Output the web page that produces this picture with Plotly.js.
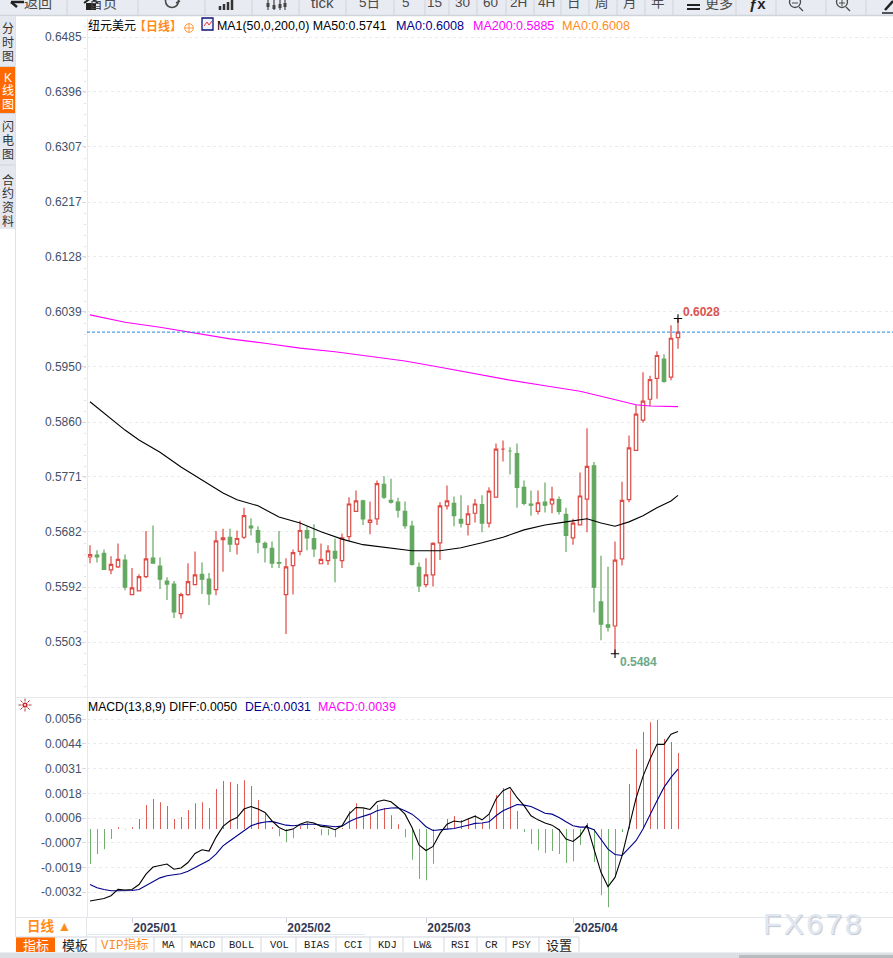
<!DOCTYPE html>
<html><head><meta charset="utf-8">
<script src="https://cdn.plot.ly/plotly-3.0.1.min.js"></script>
<style>html,body{margin:0;padding:0;background:#fff;overflow:hidden}#c{width:893px;height:958px}</style>
</head><body><div id="c"></div>
<script>
// ---- candle data (oldest to newest)
const open_ = [.5641,.5644,.5647,.5620,.5625,.5636,.5580,.5586,.5609,.5639,.5626,.5602,.5597,.5549,.5580,.5596,.5613,.5605,.5588,.5669,.5673,.5662,.5673,.5691,.5684,.5663,.5655,.5632,.5580,.5627,.5650,.5684,.5671,.5630,.5635,.5650,.5635,.5674,.5715,.5732,.5697,.5703,.5759,.5733,.5730,.5715,.5691,.5624,.5596,.5612,.5664,.5724,.5728,.5702,.5694,.5712,.5726,.5696,.5738,.5816,.5813,.5809,.5754,.5727,.5715,.5730,.5727,.5734,.5710,.5672,.5693,.5735,.5789,.5568,.5531,.5529,.5638,.5734,.5814,.5863,.5897,.5931,.5962,.5933,.5997];
const high_ = [.5660,.5652,.5653,.5642,.5663,.5645,.5623,.5613,.5683,.5692,.5640,.5608,.5602,.5583,.5631,.5650,.5632,.5615,.5683,.5687,.5687,.5684,.5721,.5704,.5691,.5666,.5666,.5683,.5639,.5653,.5700,.5691,.5694,.5663,.5660,.5671,.5679,.5738,.5749,.5734,.5731,.5765,.5772,.5768,.5737,.5731,.5700,.5632,.5639,.5665,.5730,.5757,.5739,.5741,.5725,.5735,.5741,.5754,.5825,.5830,.5819,.5825,.5765,.5749,.5749,.5762,.5755,.5739,.5721,.5703,.5778,.5850,.5795,.5643,.5625,.5666,.5763,.5838,.5888,.5941,.5935,.5975,.5970,.6017,.6028];
const low_  = [.5631,.5632,.5620,.5613,.5623,.5587,.5580,.5586,.5607,.5631,.5589,.5571,.5542,.5541,.5578,.5596,.5581,.5563,.5579,.5617,.5649,.5645,.5670,.5676,.5647,.5632,.5623,.5623,.5516,.5580,.5644,.5652,.5641,.5630,.5628,.5600,.5623,.5667,.5714,.5693,.5678,.5693,.5735,.5728,.5705,.5687,.5627,.5584,.5592,.5593,.5636,.5718,.5691,.5689,.5676,.5697,.5681,.5689,.5738,.5796,.5775,.5721,.5725,.5708,.5710,.5713,.5712,.5710,.5649,.5661,.5692,.5681,.5551,.5506,.5520,.5484,.5627,.5730,.5814,.5859,.5886,.5898,.5924,.5928,.5979];
const close_= [.5645,.5641,.5621,.5629,.5637,.5592,.5591,.5609,.5638,.5631,.5605,.5597,.5552,.5580,.5601,.5612,.5605,.5581,.5667,.5672,.5662,.5671,.5708,.5688,.5665,.5656,.5631,.5631,.5625,.5648,.5684,.5672,.5654,.5637,.5651,.5639,.5672,.5727,.5732,.5703,.5701,.5760,.5738,.5730,.5717,.5692,.5629,.5594,.5612,.5663,.5724,.5732,.5708,.5696,.5711,.5727,.5696,.5748,.5816,.5816,.5813,.5754,.5728,.5725,.5729,.5725,.5735,.5715,.5676,.5696,.5740,.5788,.5592,.5532,.5527,.5636,.5733,.5818,.5873,.5894,.5929,.5968,.5926,.5996,.6006];
// ---- moving averages: vertices read at these candle numbers
const ma50Idx = [0,3,5,7,10,13,16,19,21,24,27,30,33,36,39,42,46,50,53,56,59,62,65,68,71,73,75,77,79,81,83,84];
const ma50Val = [.5893,.5865,.5847,.5831,.5811,.5787,.5766,.5745,.5734,.5724,.5706,.5696,.5682,.5670,.5661,.5657,.5651,.5651,.5656,.5664,.5673,.5685,.5693,.5698,.5703,.5696,.5691,.5698,.5708,.5721,.5732,.5741];
const ma200Idx = [0,5,10,15,20,25,30,35,40,45,50,55,60,65,70,73,76,78,80,84];
const ma200Val = [.6034,.6022,.6014,.6005,.5995,.5988,.5980,.5974,.5966,.5959,.5949,.5938,.5928,.5919,.5910,.5902,.5893,.5888,.5886,.5885];
const lastPrice = .6006, highMark = .6028, lowMark = .5484, highIdx = 84, lowIdx = 75;
// ---- MACD pane
const macdBars = [-.00178,-.00127,-.00102,-.00051,.00010,-.00002,.00010,.00051,.00122,.00153,.00137,.00117,.00051,.00061,.00097,.00132,.00137,.00107,.00204,.00244,.00239,.00229,.00249,.00219,.00148,.00081,.00010,-.00036,-.00066,-.00046,.00015,.00031,.00005,-.00031,-.00031,-.00041,.00005,.00092,.00132,.00102,.00076,.00122,.00107,.00071,.00025,-.00042,-.00156,-.00254,-.00260,-.00176,-.00005,.00051,.00066,.00046,.00056,.00071,.00031,.00076,.00173,.00209,.00198,.00092,-.00015,-.00076,-.00107,-.00122,-.00112,-.00127,-.00173,-.00163,-.00081,.00031,-.00168,-.00336,-.00397,-.00241,-.00015,.00229,.00407,.00494,.00544,.00555,.00458,.00443,.00387];
const diffLine = [-.00366,-.00360,-.00353,-.00339,-.00307,-.00310,-.00307,-.00282,-.00229,-.00193,-.00185,-.00178,-.00204,-.00198,-.00170,-.00124,-.00105,-.00112,-.00042,.00014,.00042,.00059,.00102,.00115,.00102,.00085,.00042,.00008,-.00008,0,.00025,.00037,.00031,.00014,.00010,-.00003,.00017,.00076,.00110,.00108,.00100,.00139,.00148,.00139,.00110,.00076,.00008,-.00081,-.00109,-.00088,-.00022,.00025,.00041,.00036,.00051,.00066,.00047,.00076,.00153,.00195,.00212,.00161,.00119,.00068,.00047,.00031,.00020,-.00003,-.00051,-.00063,-.00034,.00020,-.00102,-.00220,-.00293,-.00246,-.00136,.00017,.00156,.00268,.00356,.00431,.00431,.00483,.00497];
const deaLine = [-.00282,-.00298,-.00307,-.00314,-.00314,-.00314,-.00312,-.00307,-.00288,-.00266,-.00248,-.00237,-.00231,-.00227,-.00215,-.00195,-.00178,-.00159,-.00127,-.00085,-.00059,-.00034,-.00005,.00017,.00029,.00036,.00039,.00031,.00020,.00017,.00022,.00025,.00025,.00020,.00014,.00012,.00015,.00037,.00054,.00064,.00076,.00093,.00102,.00107,.00108,.00093,.00076,.00047,.00012,-.00007,-.00005,0,.00003,.00010,.00020,.00029,.00031,.00037,.00068,.00093,.00110,.00125,.00122,.00115,.00098,.00081,.00076,.00059,.00037,.00017,.00010,.00010,-.00003,-.00051,-.00102,-.00129,-.00134,-.00097,-.00059,0,.00076,.00144,.00212,.00263,.00305];
// ---- tick labels
const priceTicks = ['0.6485','0.6396','0.6307','0.6217','0.6128','0.6039','0.5950','0.5860','0.5771','0.5682','0.5592','0.5503'];
const macdTicks = ['0.0056','0.0044','0.0031','0.0018','0.0006','-0.0007','-0.0019','-0.0032'];
const macdTickVals = [.0056,.00434,.00308,.00182,.00056,-.00070,-.00196,-.00320];
const monthTickIdx = [6,28,48,69];
const monthLabels = ['2025/01','2025/02','2025/03','2025/04'];
const toolbarLabels = [['tick',322],['5日',369],['5',406],['15',434],['30',462],['60',490],['2H',518],['4H',546],['日',574],['周',602],['月',630],['年',658]];
const toolbarSeps = [67,138,205,252,299,346,394,425,449,477,506,534,561,589,617,645,673,736,776,826,866];
const bottomTabs = [['模板',75,55,96],['VIP指标',125,96,154],['MA',168,154,182],['MACD',202,182,222],['BOLL',241,222,261],['VOL',279,261,296],['BIAS',316,296,336],['CCI',353,336,370],['KDJ',387,370,403],['LW&',423,403,444],['RSI',460,444,477],['CR',491,477,506],['PSY',522,506,539],['设置',559,539,579]];

const W=893,H=958;
const px=x=>x/W, py=y=>1-y/H;
const SANS='"Liberation Sans", Arial, "Noto Sans CJK SC", sans-serif';
const RED='#df4a44', GREEN='#62a85f', BLUE='#00008b', MAG='#ff00ff', ORG='#ff8c1a';
const idx=open_.map((_,i)=>i);
const xr=[(87-90)/7,(893-90)/7];
const yTop=18,yMid=697,yBot=917;
const perPx=(.6485-.5503)/605;
const priceRange=[.6485-(yMid-37)*perPx,.6485+(37-yTop)*perPx];
const macdPerPx=.0088/173;
const macdRange=[.0056-(yBot-719)*macdPerPx,.0056+(719-yMid)*macdPerPx];

const traces=[
 {type:'candlestick',x:idx,open:open_,high:high_,low:low_,close:close_,xaxis:'x',yaxis:'y',whiskerwidth:0,
  increasing:{line:{color:RED,width:1.2},fillcolor:'#ffffff'},decreasing:{line:{color:GREEN,width:1.2},fillcolor:GREEN},hoverinfo:'skip'},
 {type:'scatter',mode:'lines',x:ma200Idx,y:ma200Val,xaxis:'x',yaxis:'y',line:{color:MAG,width:1.1},hoverinfo:'skip'},
 {type:'scatter',mode:'lines',x:ma50Idx,y:ma50Val,xaxis:'x',yaxis:'y',line:{color:'#000',width:1.1},hoverinfo:'skip'},
 {type:'scatter',mode:'markers',x:[highIdx,lowIdx],y:[highMark,lowMark],xaxis:'x',yaxis:'y',
  marker:{symbol:'cross-thin',size:6,line:{color:'#000',width:1.1}},hoverinfo:'skip'},
 {type:'bar',x:idx,y:macdBars,xaxis:'x2',yaxis:'y2',width:.13,offset:.005,marker:{color:macdBars.map(v=>v>=0?RED:GREEN),line:{width:0}},hoverinfo:'skip'},
 {type:'scatter',mode:'lines',x:idx,y:deaLine,xaxis:'x2',yaxis:'y2',line:{color:BLUE,width:1.1},hoverinfo:'skip'},
 {type:'scatter',mode:'lines',x:idx,y:diffLine,xaxis:'x2',yaxis:'y2',line:{color:'#000',width:1.1},hoverinfo:'skip'}
];

const shapes=[];
const rect=(x0,y0,x1,y1,fill,layer)=>shapes.push({type:'rect',xref:'paper',yref:'paper',x0:px(x0),x1:px(x1),y0:py(y1),y1:py(y0),fillcolor:fill,line:{width:0},layer:layer||'above'});
const seg=(x0,y0,x1,y1,c,w)=>shapes.push({type:'line',xref:'paper',yref:'paper',x0:px(x0),x1:px(x1),y0:py(y0),y1:py(y1),line:{color:c,width:w||1},layer:'above'});
const circ=(cx,cy,r,c,w)=>shapes.push({type:'circle',xref:'paper',yref:'paper',x0:px(cx-r),x1:px(cx+r),y0:py(cy+r),y1:py(cy-r),line:{color:c,width:w||1},layer:'above'});
const ann=[];
const txt=(s,x,y,o={})=>ann.push({text:s,xref:'paper',yref:'paper',x:px(x),y:py(y),xanchor:o.a||'left',yanchor:'middle',showarrow:false,
   font:Object.assign({family:o.f||SANS,size:o.s||12,color:o.c||'#000',weight:o.w||'normal'},o.shadow?{shadow:o.shadow}:{}),borderpad:0,borderwidth:0});

// toolbar
rect(0,0,893,15,'#e9ebf2'); seg(0,15.5,893,15.5,'#cfd3da',1.5);
toolbarSeps.forEach(x=>seg(x,0,x,15,'#cfd3da',1));
const TB='#4a4a4a';
txt('返回',38,3,{a:'center',s:14,c:TB}); txt('首页',103,3,{a:'center',s:14,c:TB});
toolbarLabels.forEach(([s,x])=>txt(s,x,3,{a:'center',s:s==='tick'?15:13.5,c:TB}));
txt('更多',705,3,{a:'left',s:14,c:TB}); seg(687,5,700,5,'#222',2); seg(687,9,700,9,'#222',2);
txt('ƒx',757,4,{a:'center',s:15,c:'#222',w:'bold'});
// toolbar icons
seg(11,2,24,2,'#222',2.5); seg(11,2,17,7,'#222',2.5);
seg(84,3,91,-2,'#222',2); seg(91,-2,98,3,'#222',2); rect(86,3,96,10,'#222');
circ(172,1,6.5,TB,1.6); seg(176,3,180,1,TB,1.5);
[[220,6],[224,4],[228,2],[232,-1]].forEach(([x,y])=>seg(x,y,x,10,'#333',2.5));
[[268,7],[274,9],[280,8],[285,7]].forEach(([x,y])=>{seg(x,-2,x,10,'#444',1.2);seg(x,y-4,x,y,'#444',3);});
circ(795,2,5.5,TB,1.3); seg(792,3,798,3,TB,1); seg(799,7,803,11,TB,1.3);
circ(842,2,5.5,TB,1.3); seg(839,3,845,3,TB,1); seg(842,0,842,6,TB,1); seg(846,7,850,11,TB,1.3);
seg(882,13,893,13,'#222',1.5); seg(885,10,893,1,'#222',2.5);

// left side tabs
rect(0,16,15,229,'#e6e8ef');
rect(0,67,15,113,'#ff6a00');
seg(0,66.5,15,66.5,'#cfd3da'); seg(0,113.5,15,113.5,'#cfd3da'); seg(0,165,15,165,'#cfd3da');
seg(15.5,16,15.5,937,'#dfe2e8');
const sideTabs=[['分',29],['时',43],['图',57],['闪',127],['电',141],['图',155],['合',180],['约',194],['资',208],['料',222]];
sideTabs.forEach(([s,y])=>txt(s,7.5,y,{a:'center',s:12,c:'#333'}));
[['K',78],['线',91],['图',105]].forEach(([s,y])=>txt(s,7.5,y,{a:'center',s:12,c:'#fff'}));

// pane frame
seg(87.5,18,87.5,917,'#e3e9f0');
seg(16,697.5,893,697.5,'#e6e8ec');
seg(16,917.5,893,917.5,'#e3e6ea');

// pane headers
txt('纽元美元',88,26,{s:12});
txt('【日线】',134,26,{s:12,c:ORG,w:'bold'});
circ(189,28,4.3,ORG,.9); seg(184.5,28,193.5,28,ORG,.8); seg(189,23.5,189,32.5,ORG,.8);
shapes.push({type:'rect',xref:'paper',yref:'paper',x0:px(202),x1:px(213),y0:py(30),y1:py(18),fillcolor:'#eef3ff',line:{color:'#10107a',width:1.3},layer:'above'});
seg(204,26,207,22,'#e33',1); seg(207,22,209,25,'#e33',1); seg(209,25,212,21,'#e33',1);
txt('MA1(50,0,200,0) MA50:0.5741',217,26,{s:12.4});
txt('MA0:0.6008',396,26,{c:BLUE,s:12.6});
txt('MA200:0.5885',473,26,{c:MAG,s:12.5});
txt('MA0:0.6008',562,26,{c:ORG,s:12.6});
txt('MACD(13,8,9) DIFF:0.0050',88,707,{s:12.2});
txt('DEA:0.0031',245,707,{c:BLUE,s:12.2});
txt('MACD:0.0039',318,707,{c:MAG,s:12.4});

// sun icon in the MACD pane corner
circ(25,705,1.8,'#c8282a',1.6);
[[25,698.5,25,701.5],[25,708.5,25,711.5],[18.5,705,21.5,705],[28.5,705,31.5,705],[20.5,700.5,22.5,702.5],[27.5,707.5,29.5,709.5],[29.5,700.5,27.5,702.5],[22.5,707.5,20.5,709.5]].forEach(s=>seg(s[0],s[1],s[2],s[3],'#b23a3a',1));

// extreme value labels
ann.push({text:'0.6028',xref:'x',yref:'paper',x:highIdx,y:py(312),xanchor:'left',xshift:3,yanchor:'middle',showarrow:false,font:{family:SANS,size:12,color:'#d9534f',weight:'bold'}});
ann.push({text:'0.5484',xref:'x',yref:'paper',x:lowIdx,y:py(662),xanchor:'left',xshift:3,yanchor:'middle',showarrow:false,font:{family:SANS,size:12,color:'#6aa98a',weight:'bold'}});

// bottom strip
rect(16,918,86,937,'#ffffff');
seg(86.5,917,86.5,937,'#e3e6ea');
txt('日线 ▲',49,926,{a:'center',s:13.5,c:ORG,w:'bold'});
seg(87,934.5,365,934.5,'#dfeaf0',1);
seg(16,937,579,937,'#d3d7dd',1);
rect(16,937.5,55,952,'#ff6a00');
txt('指标',35.5,945,{a:'center',s:13,c:'#fff'});
const MONO='"Liberation Mono","Noto Sans CJK SC",monospace';
bottomTabs.forEach(([s,x,x0,x1])=>{
  seg(x1,937,x1,952,'#d3d7dd',1);
  const cjk=/[\u4e00-\u9fff]/.test(s)&&s.indexOf('VIP')<0;
  txt(s,x,945,{a:'center',s:cjk?13:(s==='VIP指标'?12.5:10.5),c:s==='VIP指标'?ORG:'#222',f:cjk?SANS:MONO});
});
rect(0,952.5,893,958,'#dcdfe3');
rect(739,955,893,958,'#b9bcbf');
// watermark
txt('F\u200aX\u200a6\u200a7\u200a8',763,923,{s:30,c:'#e1e7f0',shadow:'1px 1px 1px #bcc6d4'});

const layout={
 width:W,height:H,margin:{l:0,r:0,t:0,b:0},paper_bgcolor:'#fff',plot_bgcolor:'#fff',showlegend:false,
 xaxis:{domain:[px(87),1],range:xr,anchor:'y',showticklabels:false,ticks:'',showgrid:false,zeroline:false,showline:false,rangeslider:{visible:false},fixedrange:true},
 yaxis:{domain:[py(yMid),py(yTop)],range:priceRange,anchor:'x',tickmode:'array',tickvals:priceTicks.map(Number),ticktext:priceTicks,
   tickfont:{family:SANS,size:12,color:'#44506a'},ticks:'outside',ticklen:4,tickcolor:'#d5dbe3',ticklabelstandoff:-2,showgrid:true,gridcolor:'#e9ecef',griddash:'dot',gridwidth:1,zeroline:false,showline:false,fixedrange:true,
   minor:{dtick:(.6485-.5503)/55,tick0:.5503,ticks:'outside',ticklen:2,tickcolor:'#dde2e8',showgrid:false}},
 xaxis2:{domain:[px(87),1],range:xr,anchor:'y2',tickmode:'array',tickvals:monthTickIdx,ticktext:monthLabels,ticks:'outside',ticklen:5,tickcolor:'#cdd3db',
   ticklabelshift:23,ticklabelstandoff:-5,tickfont:{family:SANS,size:12,color:'#333a55',weight:'bold'},showgrid:false,zeroline:false,showline:false,fixedrange:true},
 yaxis2:{domain:[py(yBot),py(yMid)],range:macdRange,anchor:'x2',tickmode:'array',tickvals:macdTickVals,ticktext:macdTicks,
   tickfont:{family:SANS,size:12,color:'#44506a'},ticks:'outside',ticklen:4,tickcolor:'#d5dbe3',ticklabelstandoff:-2,showgrid:true,gridcolor:'#e9ecef',griddash:'dot',gridwidth:1,zeroline:false,showline:false,fixedrange:true},
 shapes:shapes.concat([{type:'line',xref:'paper',yref:'y',x0:px(87),x1:1,y0:lastPrice,y1:lastPrice,line:{color:'#1e88e5',width:1,dash:'3px,2px'},layer:'above'}]),
 annotations:ann
};
Plotly.newPlot('c',traces,layout,{displayModeBar:false,staticPlot:true,responsive:false});
</script></body></html>
